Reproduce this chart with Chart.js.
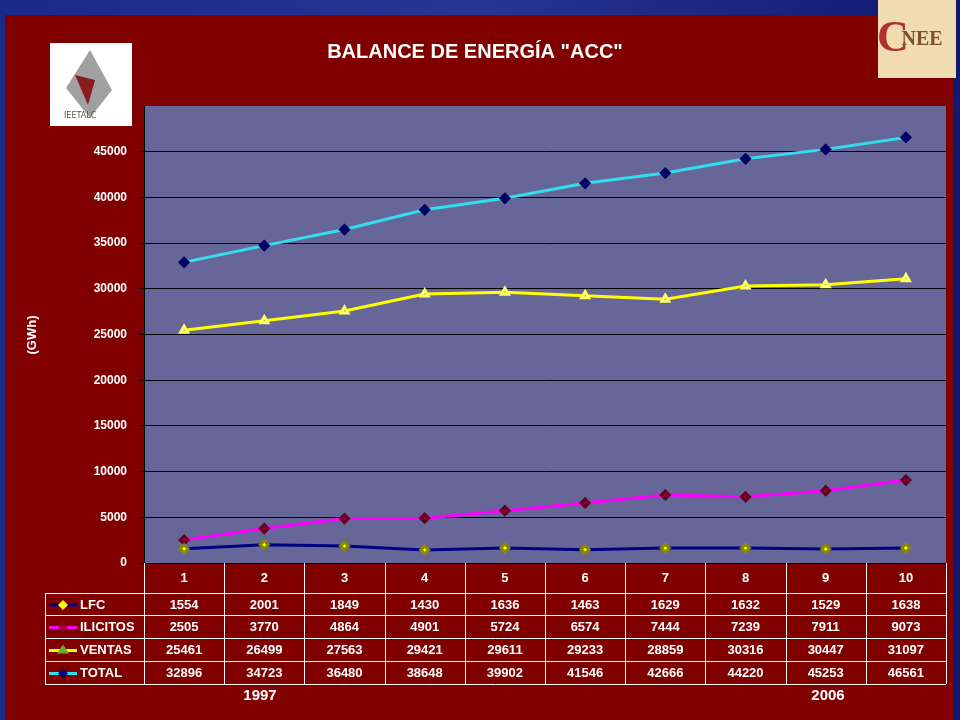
<!DOCTYPE html><html><head><meta charset="utf-8">
<script src="https://cdn.jsdelivr.net/npm/chart.js"></script>
<style>html,body{margin:0;padding:0;background:#1a237e}#w{width:960px;height:720px}</style></head><body>
<div id="w"><canvas id="c" width="960" height="720"></canvas></div>
<script>
const categories=['1','2','3','4','5','6','7','8','9','10'];
const LFC=[1554,2001,1849,1430,1636,1463,1629,1632,1529,1638];
const ILICITOS=[2505,3770,4864,4901,5724,6574,7444,7239,7911,9073];
const VENTAS=[25461,26499,27563,29421,29611,29233,28859,30316,30447,31097];
const TOTAL=[32896,34723,36480,38648,39902,41546,42666,44220,45253,46561];
const yTicks=[0,5000,10000,15000,20000,25000,30000,35000,40000,45000];
const F='bold 13px "Liberation Sans", Arial, sans-serif';
const series=[
 {label:'LFC',data:LFC,borderColor:'#000080',pointBackgroundColor:'#ffff00',pointBorderColor:'#888800',pointStyle:'rectRot'},
 {label:'ILICITOS',data:ILICITOS,borderColor:'#ff00ff',pointBackgroundColor:'#990033',pointBorderColor:'#660022',pointStyle:'rectRot'},
 {label:'VENTAS',data:VENTAS,borderColor:'#ffff00',pointBackgroundColor:'#66aa33',pointBorderColor:'#ffff66',pointStyle:'triangle'},
 {label:'TOTAL',data:TOTAL,borderColor:'#33ddee',pointBackgroundColor:'#000080',pointBorderColor:'#000060',pointStyle:'rectRot'}
];
const deco={id:'deco',
 beforeDraw(ch){const c=ch.ctx,a=ch.chartArea;c.save();
  const g=c.createLinearGradient(0,0,960,0);g.addColorStop(0,'#1a2a8a');g.addColorStop(.5,'#283593');g.addColorStop(1,'#101870');
  c.fillStyle=g;c.fillRect(0,0,960,720);
  c.fillStyle='#800000';c.fillRect(5,15,948,705);
  c.fillStyle='#666699';c.fillRect(a.left,a.top,a.right-a.left,a.bottom-a.top);
  c.fillStyle='#ffffff';c.fillRect(50,43,82,83);
  c.fillStyle='#a0a0a0';c.beginPath();c.moveTo(90,50);c.lineTo(112,90);c.lineTo(90,118);c.lineTo(66,88);c.closePath();c.fill();
  c.fillStyle='#8b1a1a';c.beginPath();c.moveTo(75,75);c.lineTo(95,80);c.lineTo(88,105);c.closePath();c.fill();
  c.fillStyle='#555';c.font='8px "DejaVu Sans"';c.textAlign='left';c.fillText('IEETALC',64,118);
  c.fillStyle='#f0dcb0';c.fillRect(878,0,78,78);
  c.fillStyle='#b03030';c.font='bold 44px "Liberation Serif"';c.textAlign='center';c.textBaseline='middle';c.fillText('C',893,40);
  c.fillStyle='#7a5030';c.font='bold 20px "Liberation Serif"';c.fillText('NEE',922,40);
  c.fillStyle='#fff';c.font='bold 20px "Liberation Sans", Arial';c.fillText('BALANCE DE ENERGÍA "ACC"',475,52);
  c.translate(32,335);c.rotate(-Math.PI/2);c.font=F;c.fillText('(GWh)',0,0);
  c.restore();},
 afterDraw(ch){const c=ch.ctx,a=ch.chartArea,x=ch.scales.x;c.save();
  const step=(x.getPixelForValue(1)-x.getPixelForValue(0));
  const rows=[563,593,615,638,661,684];
  c.strokeStyle='#fff';c.lineWidth=1;
  c.beginPath();
  c.moveTo(a.left+.5,a.bottom);c.lineTo(a.left+.5,684);c.moveTo(45.5,593);c.lineTo(45.5,684);
  for(let i=1;i<rows.length;i++){c.moveTo(45,rows[i]+.5);c.lineTo(a.right,rows[i]+.5);}
  for(let i=0;i<=categories.length;i++){const px=Math.round(x.getPixelForValue(i)-step/2)+.5;c.moveTo(px,a.bottom);c.lineTo(px,684);}
  c.stroke();
  c.fillStyle='#fff';c.font=F;c.textAlign='center';c.textBaseline='middle';
  categories.forEach((t,i)=>c.fillText(t,x.getPixelForValue(i),578));
  series.forEach((s,r)=>{const cy=(rows[r+1]+rows[r+2])/2+1;
   c.fillStyle='#fff';
   s.data.forEach((v,i)=>c.fillText(String(v),x.getPixelForValue(i),cy));
   c.strokeStyle=s.borderColor;c.lineWidth=3;c.beginPath();c.moveTo(49,cy);c.lineTo(77,cy);c.stroke();
   c.fillStyle=s.pointBackgroundColor;c.beginPath();
   if(s.pointStyle==='triangle'){c.moveTo(63,cy-6);c.lineTo(69,cy+3);c.lineTo(57,cy+3);}else{c.moveTo(63,cy-5);c.lineTo(68,cy);c.lineTo(63,cy+5);c.lineTo(58,cy);}
   c.closePath();c.fill();
   c.fillStyle='#fff';c.textAlign='left';c.fillText(s.label,80,cy);c.textAlign='center';});
  c.font='bold 15px "Liberation Sans", Arial';c.fillText('1997',260,696);c.fillText('2006',828,696);
  c.restore();}
};
new Chart(document.getElementById('c'),{type:'line',
 data:{labels:categories,datasets:series.map(s=>({...s,borderWidth:3,pointRadius:4,pointHoverRadius:4,tension:0,fill:false}))},
 options:{responsive:false,animation:false,devicePixelRatio:1,
  layout:{padding:{top:106,bottom:157,right:14,left:0}},
  plugins:{legend:{display:false},tooltip:{enabled:false}},
  scales:{
   x:{offset:true,afterFit(s){s.height=0;},ticks:{display:false},grid:{display:false,drawTicks:false},border:{display:false}},
   y:{min:0,max:50000,afterFit(s){s.width=144;},afterBuildTicks(s){s.ticks=yTicks.map(v=>({value:v}));},
      ticks:{color:'#fff',font:{family:'"Liberation Sans", Arial',size:12,weight:'bold'},padding:12,callback:v=>String(v)},
      grid:{color:'#000',drawTicks:true,tickLength:5,tickColor:'#000'},border:{color:'#000'}}
  }},
 plugins:[deco]});
</script></body></html>
